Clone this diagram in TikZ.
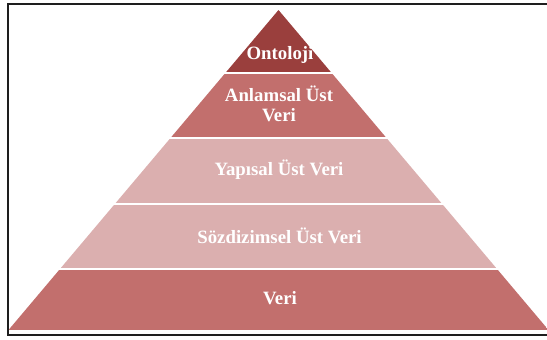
\documentclass[tikz,border=0pt]{standalone}
\usepackage{fontspec}
\setmainfont{Liberation Serif}
\usepackage{tikz}
\usetikzlibrary{positioning}
\definecolor{ontoRed}{HTML}{9A3F3D}
\definecolor{midRed}{HTML}{C26F6D}
\definecolor{paleRed}{HTML}{DBAFAF}
\definecolor{frameGray}{HTML}{1E1E1E}

\begin{document}
\begin{tikzpicture}[x=1pt,y=-1pt,
    layertext/.style={text=white, font=\fontsize{18.8}{19.5}\selectfont\bfseries, align=center, inner sep=0pt}]
    \useasboundingbox (0,0) rectangle (547,340);

    % Pyramid bands, clipped to the triangle
    \begin{scope}
        \clip (278.5,10) -- (8.5,330) -- (548.5,330) -- cycle;
        \fill[ontoRed]  (0,0)   rectangle (547,72);
        \fill[midRed]   (0,74)  rectangle (547,137);
        \fill[paleRed]  (0,139) rectangle (547,203);
        \fill[paleRed]  (0,205) rectangle (547,268);
        \fill[midRed]   (0,270) rectangle (547,330);
    \end{scope}

    % Frame (right side is cut off)
    \draw[frameGray, line width=2.8pt] (550,4) -- (8,4) -- (8,335) -- (550,335);

    % Labels
    \node[layertext] (onto)  at (280,55)  {Ontoloji};
    \node[layertext] (anlam) at (279,104) {Anlamsal Üst\\Veri};
    \node[layertext] (yapi)  at (279,170) {Yapısal Üst Veri};
    \node[layertext] (soz)   at (279.5,236) {Sözdizimsel Üst Veri};
    \node[layertext] (veri)  at (280,298) {Veri};
\end{tikzpicture}
\end{document}
